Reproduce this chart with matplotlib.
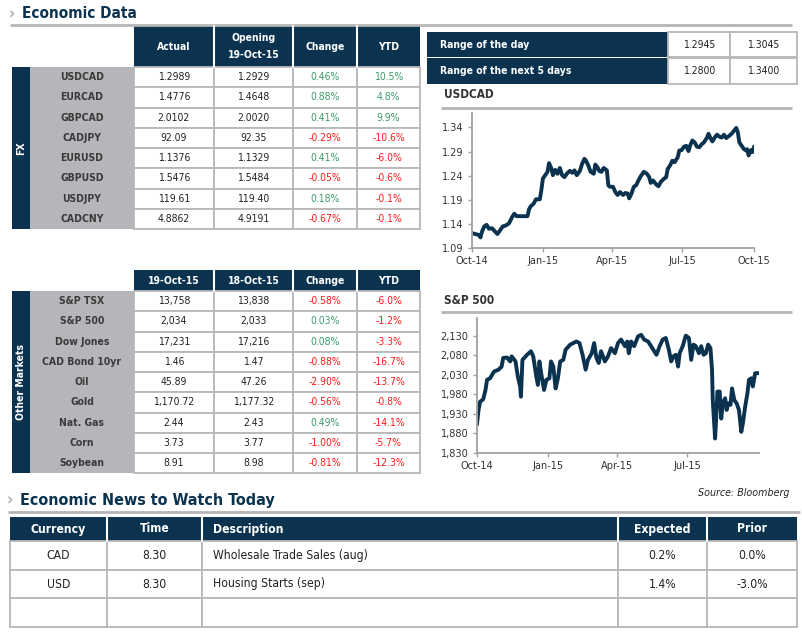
import matplotlib
matplotlib.use("Agg")
import matplotlib.pyplot as plt
from matplotlib.patches import Rectangle
import numpy as np

plt.rcParams["font.family"] = "DejaVu Sans"
plt.rcParams["font.stretch"] = "condensed"

NAVY = "#0B3350"
GREY_LBL = "#B5B6B9"
BORDER = "#B8B8B8"
GREEN = "#3E9A6E"
RED = "#FF1A1A"
TXT = "#222222"

# ---- data ----
fx_pairs = ["USDCAD", "EURCAD", "GBPCAD", "CADJPY", "EURUSD", "GBPUSD", "USDJPY", "CADCNY"]
fx_actual = ["1.2989", "1.4776", "2.0102", "92.09", "1.1376", "1.5476", "119.61", "4.8862"]
fx_open = ["1.2929", "1.4648", "2.0020", "92.35", "1.1329", "1.5484", "119.40", "4.9191"]
fx_change = [0.46, 0.88, 0.41, -0.29, 0.41, -0.05, 0.18, -0.67]
fx_ytd = [10.5, 4.8, 9.9, -10.6, -6.0, -0.6, -0.1, -0.1]

mkt_names = ["S&P TSX", "S&P 500", "Dow Jones", "CAD Bond 10yr", "Oil", "Gold",
             "Nat. Gas", "Corn", "Soybean"]
mkt_today = ["13,758", "2,034", "17,231", "1.46", "45.89", "1,170.72", "2.44", "3.73", "8.91"]
mkt_prev = ["13,838", "2,033", "17,216", "1.47", "47.26", "1,177.32", "2.43", "3.77", "8.98"]
mkt_change = [-0.58, 0.03, 0.08, -0.88, -2.90, -0.56, 0.49, -1.00, -0.81]
mkt_ytd = [-6.0, -1.2, -3.3, -16.7, -13.7, -0.8, -14.1, -5.7, -12.3]

range_labels = ["Range of the day", "Range of the next 5 days"]
range_low = ["1.2945", "1.2800"]
range_high = ["1.3045", "1.3400"]

# days since 1-Oct-14
usdcad_day = [0, 4, 9, 11, 13, 16, 19, 22, 26, 30, 33, 37, 40, 43, 48, 52, 55, 58, 63, 67,
              72, 74, 76, 80, 83, 88, 90, 92, 95, 98, 100, 103, 105, 108, 111, 114, 117, 120,
              123, 127, 130, 133, 136, 140, 143, 146, 148, 151, 154, 158, 160, 163, 165, 168,
              171, 175, 177, 179, 183, 186, 189, 192, 196, 199, 202, 204, 207, 210, 213, 216,
              219, 223, 227, 230, 232, 235, 239, 242, 245, 248, 252, 254, 257, 260, 263, 267,
              269, 272, 275, 278, 281, 283, 286, 289, 292, 295, 298, 301, 305, 307, 310, 312,
              315, 318, 321, 324, 327, 330, 334, 337, 340, 343, 345, 347, 350, 353, 356, 357,
              359, 362, 364, 366]
usdcad_val = [1.121, 1.119, 1.117, 1.112, 1.124, 1.135, 1.138, 1.130, 1.131, 1.124, 1.119,
              1.128, 1.135, 1.136, 1.141, 1.154, 1.161, 1.156, 1.156, 1.156, 1.156, 1.170,
              1.176, 1.182, 1.191, 1.191, 1.210, 1.234, 1.241, 1.248, 1.266, 1.255, 1.241,
              1.252, 1.244, 1.256, 1.241, 1.237, 1.244, 1.250, 1.246, 1.251, 1.241, 1.250,
              1.265, 1.275, 1.271, 1.261, 1.248, 1.244, 1.263, 1.257, 1.250, 1.248, 1.256,
              1.251, 1.220, 1.217, 1.217, 1.206, 1.200, 1.206, 1.200, 1.204, 1.203, 1.193,
              1.203, 1.217, 1.220, 1.230, 1.239, 1.248, 1.244, 1.237, 1.225, 1.230, 1.222,
              1.218, 1.227, 1.232, 1.237, 1.254, 1.261, 1.271, 1.268, 1.278, 1.292, 1.293,
              1.300, 1.302, 1.291, 1.302, 1.313, 1.309, 1.300, 1.299, 1.305, 1.309, 1.319,
              1.327, 1.316, 1.311, 1.319, 1.325, 1.321, 1.319, 1.325, 1.318, 1.323, 1.327,
              1.333, 1.339, 1.330, 1.309, 1.302, 1.295, 1.292, 1.295, 1.282, 1.293, 1.289,
              1.299]

spx_day = [0, 2, 4, 8, 11, 13, 17, 22, 28, 32, 34, 39, 43, 45, 50, 53, 56, 57, 59, 65, 70,
           73, 77, 79, 81, 84, 87, 90, 94, 96, 99, 102, 105, 108, 112, 115, 121, 125, 129,
           133, 137, 141, 144, 149, 152, 155, 158, 161, 166, 170, 174, 179, 183, 187, 192,
           195, 197, 200, 204, 209, 213, 217, 222, 226, 230, 233, 237, 241, 245, 249, 252,
           255, 258, 261, 263, 267, 271, 275, 278, 281, 284, 288, 291, 294, 297, 300, 303,
           305, 306, 309, 311, 312, 315, 317, 319, 322, 324, 326, 329, 331, 334, 337, 340,
           343, 345, 348, 351, 353, 356, 358, 361, 364]
spx_val = [1905, 1940, 1961, 1967, 1991, 2017, 2021, 2038, 2043, 2051, 2073, 2074, 2064,
           2077, 2064, 2025, 2000, 1974, 2068, 2081, 2090, 2077, 2025, 2004, 2064, 2025,
           1991, 2017, 2021, 2064, 2051, 1995, 2021, 2064, 2068, 2094, 2107, 2111, 2115,
           2111, 2081, 2043, 2068, 2085, 2111, 2073, 2060, 2090, 2064, 2077, 2098, 2085,
           2111, 2120, 2103, 2115, 2085, 2115, 2103, 2128, 2132, 2120, 2115, 2103, 2090,
           2081, 2103, 2120, 2124, 2094, 2064, 2077, 2081, 2051, 2085, 2103, 2130, 2124,
           2068, 2107, 2103, 2085, 2103, 2081, 2085, 2107, 2098, 2043, 1965, 1867, 1940,
           1987, 1987, 1918, 1957, 1970, 1940, 1957, 1953, 1995, 1965, 1957, 1940, 1884,
           1905, 1948, 1983, 2017, 2021, 2000, 2034, 2034]

news_head = ["Currency", "Time", "Description", "Expected", "Prior"]
news_ccy = ["CAD", "USD", ""]
news_time = ["8.30", "8.30", ""]
news_desc = ["Wholesale Trade Sales (aug)", "Housing Starts (sep)", ""]
news_exp = ["0.2%", "1.4%", ""]
news_prior = ["0.0%", "-3.0%", ""]

W, H = 803, 633
fig = plt.figure(figsize=(W / 100, H / 100), dpi=100)
bg = fig.add_axes([0, 0, 1, 1])
bg.set_xlim(0, W)
bg.set_ylim(H, 0)
bg.axis("off")


def box(x0, y0, x1, y1, fc, ec="none", lw=0):
    bg.add_patch(Rectangle((x0, y0), x1 - x0, y1 - y0, facecolor=fc, edgecolor=ec, linewidth=lw))


def txt(x, y, s, ha="center", **kw):
    kw.setdefault("fontsize", 7.5)
    kw.setdefault("color", TXT)
    bg.text(x, y, s, ha=ha, va="center", **kw)


def pct(v, d):
    return f"{v:.{d}f}%"


def section(x, y, title, x1, yl, size=11):
    txt(x - 10, y, "\u203a", ha="center", fontsize=12, color="#B0B0B0", fontweight="bold")
    txt(x, y, title, ha="left", fontsize=size, color=NAVY, fontweight="bold")
    bg.plot([x - 12, x1], [yl, yl], color="#B5B5B5", lw=2, solid_capstyle="butt")


section(22, 14, "Economic Data", 792, 25)

cols = [134, 214, 293, 357, 420]


def data_table(y_head0, y_head1, heads, names, c1, c2, chg, ytd, side):
    box(cols[0], y_head0, cols[-1], y_head1, NAVY)
    for x in cols[1:-1]:
        bg.plot([x, x], [y_head0, y_head1], color="white", lw=1.5)
    for i, h in enumerate(heads):
        txt((cols[i] + cols[i + 1]) / 2, (y_head0 + y_head1) / 2, h, color="white",
            fontweight="bold", linespacing=1.9)
    rh = 20.25
    n = len(names)
    y_end = y_head1 + n * rh
    box(12, y_head1, 30, y_end, NAVY)
    box(30, y_head1, cols[0], y_end, GREY_LBL)
    txt(21, (y_head1 + y_end) / 2, side, color="white", fontweight="bold", rotation=90)
    for r in range(n):
        y0 = y_head1 + r * rh
        yc = y0 + rh / 2
        for j in range(4):
            box(cols[j], y0, cols[j + 1], y0 + rh, "white", BORDER, 1.3)
        txt(82, yc, names[r], color="#3A3A3A", fontweight="bold")
        txt((cols[0] + cols[1]) / 2, yc, c1[r])
        txt((cols[1] + cols[2]) / 2, yc, c2[r])
        txt((cols[2] + cols[3]) / 2, yc, pct(chg[r], 2), color=GREEN if chg[r] >= 0 else RED)
        txt((cols[3] + cols[4]) / 2, yc, pct(ytd[r], 1), color=GREEN if ytd[r] >= 0 else RED)


data_table(26, 67, ["Actual", "Opening\n19-Oct-15", "Change", "YTD"], fx_pairs,
           fx_actual, fx_open, fx_change, fx_ytd, "FX")
data_table(270, 291, ["19-Oct-15", "18-Oct-15", "Change", "YTD"], mkt_names,
           mkt_today, mkt_prev, mkt_change, mkt_ytd, "Other Markets")

# range table
rows_y = [(32, 57), (58, 84)]
for i, (y0, y1) in enumerate(rows_y):
    box(427, y0, 668, y1, NAVY)
    box(668, y0, 730, y1, "white", BORDER, 1.3)
    box(730, y0, 797, y1, "white", BORDER, 1.3)
    yc = (y0 + y1) / 2
    txt(440, yc, range_labels[i], ha="left", color="white", fontweight="bold")
    txt(699, yc, range_low[i])
    txt(763, yc, range_high[i])


def chart(title, ty, ly, box_px, xs, ys, ylim, yticks, yfmt, xticks, xlabels):
    txt(444, ty, title, ha="left", fontsize=8.5, color="#333333", fontweight="bold")
    bg.plot([441, 792], [ly, ly], color="#B5B5B5", lw=2, solid_capstyle="butt")
    l, r, t, b = box_px
    ax = fig.add_axes([l / W, 1 - b / H, (r - l) / W, (b - t) / H])
    ax.plot(xs, ys, color=NAVY, lw=2.8, solid_joinstyle="round")
    ax.set_xlim(0, 366)
    ax.set_ylim(*ylim)
    ax.set_yticks(yticks)
    ax.set_yticklabels([yfmt(v) for v in yticks])
    ax.set_xticks(xticks)
    ax.set_xticklabels(xlabels)
    for s in ["top", "right"]:
        ax.spines[s].set_visible(False)
    for s in ["left", "bottom"]:
        ax.spines[s].set_color("#A0A0A0")
        ax.spines[s].set_linewidth(1.3)
    ax.tick_params(labelsize=7.8, colors="#333333", length=3, width=1, color="#A0A0A0", pad=3)
    ax.patch.set_alpha(0)
    return ax


chart("USDCAD", 95, 108, (472, 754, 113, 248), usdcad_day, usdcad_val, (1.09, 1.37),
      [1.09, 1.14, 1.19, 1.24, 1.29, 1.34], lambda v: f"{v:.2f}",
      [0, 92, 182, 273, 366], ["Oct-14", "Jan-15", "Apr-15", "Jul-15", "Oct-15"])
chart("S&P 500", 300, 312, (477, 759, 318, 453), spx_day, spx_val, (1830, 2175),
      [1830, 1880, 1930, 1980, 2030, 2080, 2130], lambda v: f"{v:,}",
      [0, 92, 182, 273], ["Oct-14", "Jan-15", "Apr-15", "Jul-15"])

txt(790, 493, "Source: Bloomberg", ha="right", fontsize=7.7, style="italic", color="#222222")

# news table
section(20, 500, "Economic News to Watch Today", 800, 512, size=11.5)
ncols = [10, 107, 202, 618, 707, 797]
NS = 8.7
box(ncols[0], 517, ncols[-1], 541, NAVY)
for x in ncols[1:-1]:
    bg.plot([x, x], [517, 541], color="white", lw=1.5)
for j, h in enumerate(news_head):
    if h == "Description":
        txt(ncols[j] + 11, 529, h, ha="left", color="white", fontweight="bold", fontsize=NS)
    else:
        txt((ncols[j] + ncols[j + 1]) / 2, 529, h, color="white", fontweight="bold", fontsize=NS)
row_edges = [541, 570, 598, 627]
for r in range(3):
    y0, y1 = row_edges[r], row_edges[r + 1]
    yc = (y0 + y1) / 2
    for j in range(5):
        box(ncols[j], y0, ncols[j + 1], y1, "white", BORDER, 1.3)
    txt((ncols[0] + ncols[1]) / 2, yc, news_ccy[r], fontsize=NS)
    txt((ncols[1] + ncols[2]) / 2, yc, news_time[r], fontsize=NS)
    txt(ncols[2] + 11, yc, news_desc[r], ha="left", fontsize=NS)
    txt((ncols[3] + ncols[4]) / 2, yc, news_exp[r], fontsize=NS)
    txt((ncols[4] + ncols[5]) / 2, yc, news_prior[r], fontsize=NS)

fig.savefig("out.png", dpi=100)
